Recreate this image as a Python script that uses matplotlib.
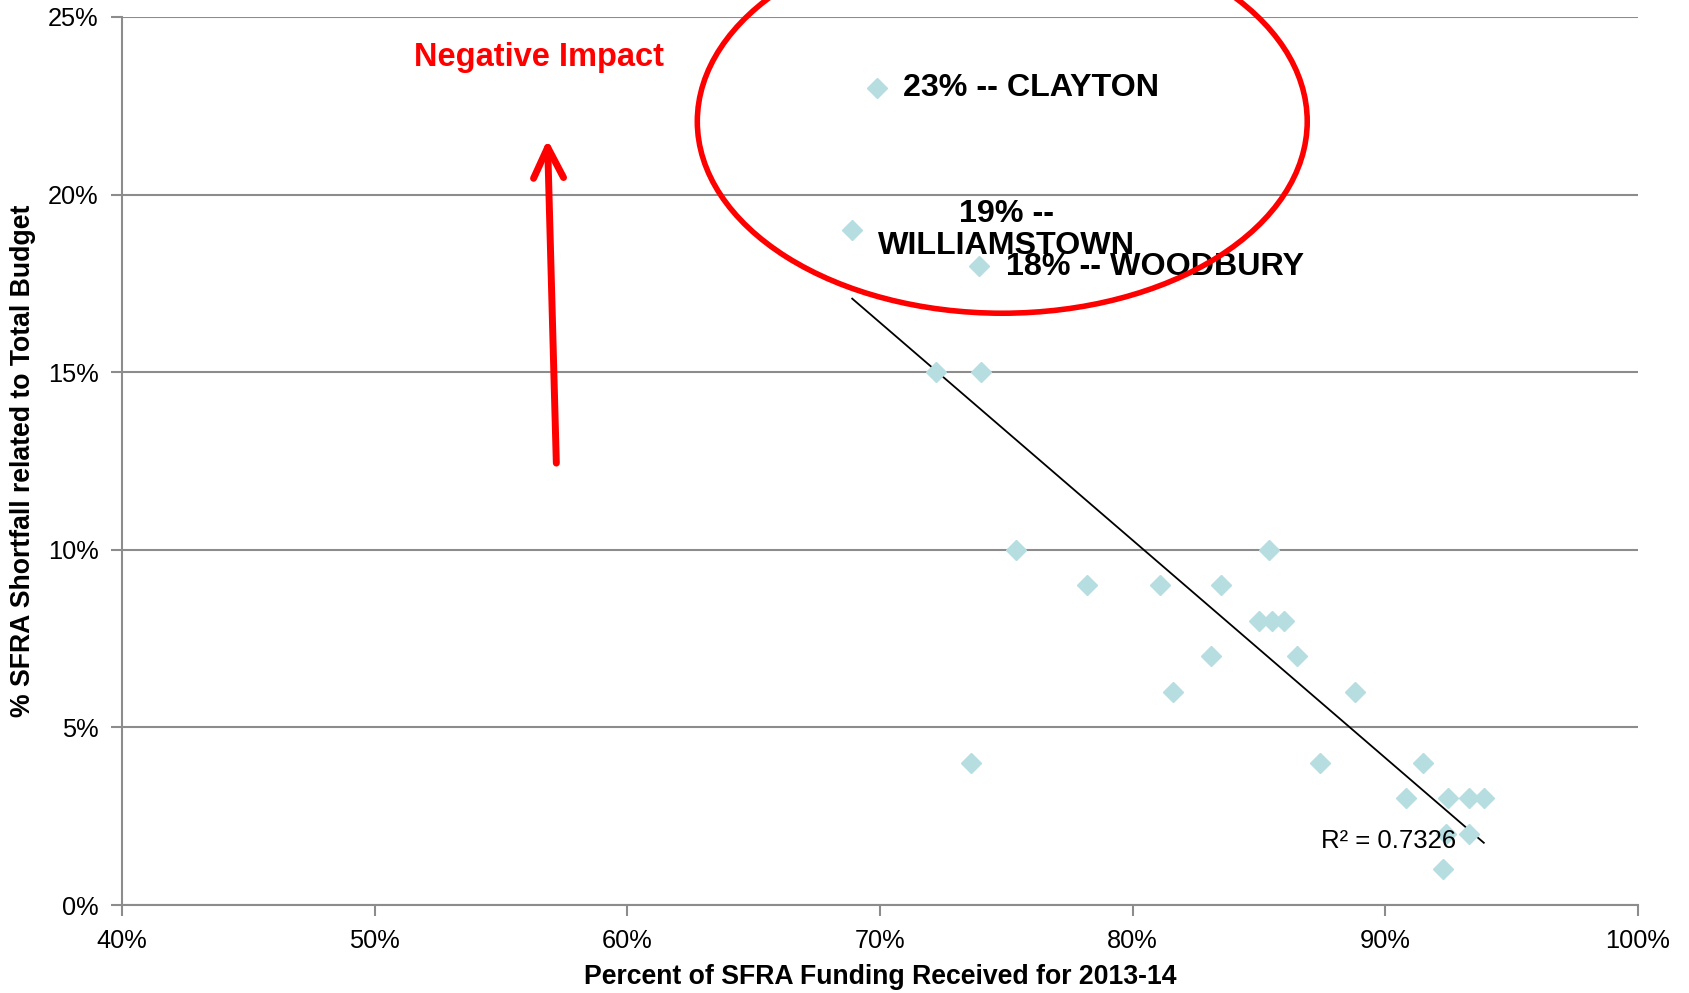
import numpy as np
import matplotlib
matplotlib.use("Agg")
import matplotlib.pyplot as plt
from matplotlib.patches import Ellipse
from matplotlib.ticker import FuncFormatter

plt.rcParams['font.family'] = ['Liberation Sans', 'DejaVu Sans']

# percent of SFRA funding received (x) vs shortfall as % of budget (y)
funding_pct = [69.9, 68.9, 73.9, 72.2, 74.0, 75.4, 78.2, 81.1, 83.5, 85.4,
               85.0, 85.5, 86.0, 83.1, 86.5, 81.6, 88.8, 73.6, 87.4, 91.5,
               90.8, 92.5, 93.3, 93.9, 92.4, 93.3, 92.3]
shortfall_pct = [23, 19, 18, 15, 15, 10, 9, 9, 9, 10,
                 8, 8, 8, 7, 7, 6, 6, 4, 4, 4,
                 3, 3, 3, 3, 2, 2, 1]

x_ticks = [40, 50, 60, 70, 80, 90, 100]
y_ticks = [0, 5, 10, 15, 20, 25]
r_squared = 0.7326

# callouts: (text, x, y, alignment)
labels = [("23% -- CLAYTON", 70.9, 23.0, 'left'),
          ("19% --\nWILLIAMSTOWN", 75.0, 19.0, 'center'),
          ("18% -- WOODBURY", 75.0, 17.95, 'left')]

marker_col = '#B6DDE0'
grid_col = '#8C8C8C'

fig = plt.figure(figsize=(16.9, 9.93), dpi=100)
fig.subplots_adjust(left=0.0722, right=0.9692, bottom=0.0886, top=0.9829)
ax = fig.add_subplot(111)

ax.plot(funding_pct, shortfall_pct, linestyle='none', marker='D', ms=10,
        color=marker_col, zorder=3)

# linear trend line over the data range
fit = np.polyfit(funding_pct, shortfall_pct, 1)
xs = np.array([min(funding_pct), max(funding_pct)])
ax.plot(xs, np.polyval(fit, xs), color='black', lw=1.3, zorder=2)
ax.text(87.45, 1.8, "R² = %.4f" % r_squared, fontsize=18.5, va='center', ha='left')

for txt, lx, ly, al in labels:
    ax.text(lx, ly, txt, fontsize=23.2, fontweight='bold', ha=al, va='center',
            linespacing=1.1, zorder=4)

# red highlight ring and arrow
ring = Ellipse((74.84, 22.06), 24.14, 10.8, fill=False, ec='#FF0000', lw=4,
               clip_on=False, zorder=5)
ax.add_patch(ring)
ax.annotate('', xy=(56.84, 21.55), xytext=(57.19, 12.44),
            arrowprops=dict(arrowstyle='->,head_length=0.55,head_width=0.27',
                            color='#FF0000', lw=5, mutation_scale=40,
                            shrinkA=0, shrinkB=0, capstyle='round',
                            joinstyle='round'))
ax.text(56.5, 23.85, "Negative Impact", color='#FF0000', fontsize=23.5,
        fontweight='bold', ha='center', va='center')

ax.set_xlim(40, 100)
ax.set_ylim(0, 25)
ax.set_xticks(x_ticks)
ax.set_yticks(y_ticks)
ax.xaxis.set_major_formatter(FuncFormatter(lambda v, p: "%d%%" % v))
ax.yaxis.set_major_formatter(FuncFormatter(lambda v, p: "%d%%" % v))
ax.tick_params(labelsize=18.3, length=8, width=1.5, color=grid_col, pad=9)
ax.yaxis.grid(True, color=grid_col, lw=1.5)
ax.set_axisbelow(True)
for s in ['top', 'right']:
    ax.spines[s].set_visible(False)
for s in ['left', 'bottom']:
    ax.spines[s].set_color(grid_col)
    ax.spines[s].set_linewidth(1.5)

ax.set_xlabel("Percent of SFRA Funding Received for 2013-14", fontsize=19.2,
              fontweight='bold')
ax.set_ylabel("% SFRA Shortfall related to Total Budget", fontsize=19.2,
              fontweight='bold')
ax.xaxis.set_label_coords(0.5, -0.066)
ax.xaxis.label.set_va('top')
ax.yaxis.set_label_coords(-0.057, 0.5)

fig.savefig("out.png", dpi=100)
